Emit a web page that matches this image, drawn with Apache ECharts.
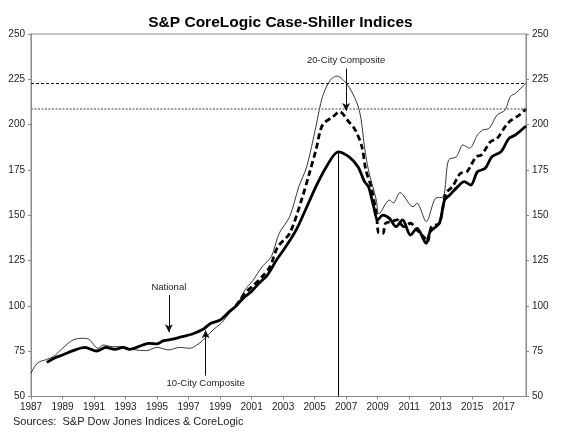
<!DOCTYPE html>
<html>
<head>
<meta charset="utf-8">
<script src="https://cdn.jsdelivr.net/npm/echarts@6/dist/echarts.min.js"></script>
<style>
  html, body { margin: 0; padding: 0; background: #fff; }
  #chart { width: 561px; height: 443px; }
</style>
</head>
<body>
<div id="chart"></div>
<script>
// monthly index values (Jan 2000 = 100)
const nationalDates = ['1988-01', '1988-07', '1989-01', '1989-09', '1990-06', '1991-03', '1991-10', '1992-05',
  '1992-11', '1993-04', '1994-02', '1994-07', '1995-01', '1995-06', '1996-01', '1996-08', '1997-04', '1997-12',
  '1998-06', '1999-01', '1999-08', '2000-02', '2000-07', '2001-01', '2001-06', '2002-01', '2002-08', '2003-03',
  '2003-11', '2004-06', '2005-02', '2005-10', '2006-07', '2007-03', '2007-10', '2008-03', '2008-06', '2008-10',
  '2009-01', '2009-05', '2009-10', '2010-03', '2010-08', '2011-02', '2011-07', '2012-02', '2012-05', '2012-12',
  '2013-04', '2013-08', '2014-02', '2014-07', '2014-12', '2015-05', '2015-11', '2016-04', '2016-11', '2017-05',
  '2017-10', '2018-06'];
const nationalValues = [68.8, 71.3, 72.9, 75.3, 77.1, 75.1, 77.1, 76.0,
  77.1, 76.0, 78.4, 79.3, 79.0, 80.8, 81.6, 83.0, 84.5, 87.1,
  90.4, 92.2, 96.8, 100.5, 104.5, 108.0, 112.0, 117.0, 125.3, 132.6,
  141.9, 152.9, 165.8, 176.8, 185.0, 182.3, 176.8, 168.5, 165.8, 154.7,
  147.4, 150.1, 148.3, 143.7, 147.4, 139.1, 142.8, 134.5, 140.9, 145.6,
  158.4, 161.2, 165.8, 168.5, 166.7, 174.0, 175.9, 182.3, 185.1, 192.4,
  194.3, 199.2];

const city10Dates = ['1987-01', '1987-06', '1988-01', '1988-06', '1989-01', '1989-09', '1990-04', '1990-09',
  '1991-04', '1991-08', '1992-03', '1992-11', '1993-06', '1994-05', '1995-01', '1995-10', '1996-06', '1997-02',
  '1997-09', '1998-02', '1998-08', '1999-02', '1999-08', '2000-02', '2000-08', '2001-02', '2001-09', '2002-04',
  '2002-10', '2003-06', '2004-01', '2004-07', '2005-02', '2005-07', '2006-01', '2006-06', '2007-03', '2007-11',
  '2008-03', '2008-06', '2008-12', '2009-02', '2009-10', '2010-01', '2010-06', '2011-04', '2011-07', '2012-02',
  '2012-09', '2013-03', '2013-07', '2014-01', '2014-06', '2014-11', '2015-05', '2015-09', '2016-02', '2016-08',
  '2017-02', '2017-06', '2017-10', '2018-06'];
const city10Values = [62.8, 68.5, 70.5, 72.0, 76.6, 81.2, 82.1, 81.6,
  76.6, 78.4, 77.5, 77.5, 76.0, 75.3, 77.1, 75.7, 77.1, 76.6,
  79.3, 82.5, 87.0, 90.5, 95.9, 100.5, 108.8, 114.0, 121.6, 127.1,
  140.0, 149.2, 165.8, 176.8, 198.9, 215.4, 224.6, 226.8, 220.9, 208.1,
  187.8, 175.0, 158.4, 150.7, 158.4, 156.8, 162.5, 154.7, 156.6, 146.5,
  159.3, 160.2, 180.5, 182.3, 188.8, 187.0, 194.3, 197.0, 198.0, 205.3,
  208.0, 215.4, 217.3, 222.9];

const city20Dates = ['2000-01', '2000-08', '2001-02', '2001-09', '2002-03', '2002-09', '2003-06', '2004-03',
  '2004-09', '2005-02', '2005-07', '2006-03', '2006-08', '2007-03', '2007-08', '2008-01', '2008-04', '2008-08',
  '2008-12', '2009-02', '2009-05', '2009-07', '2009-11', '2010-04', '2010-09', '2011-02', '2011-07', '2012-01',
  '2012-03', '2012-06', '2012-12', '2013-05', '2013-10', '2014-04', '2014-09', '2015-04', '2015-08', '2016-03',
  '2016-08', '2017-03', '2017-07', '2018-01', '2018-06'];
const city20Values = [100.0, 107.0, 111.0, 116.1, 121.6, 132.6, 140.0, 158.4,
  173.1, 186.0, 199.8, 204.4, 207.1, 201.6, 197.0, 187.8, 175.0, 165.8,
  151.0, 140.0, 140.0, 145.6, 146.4, 147.4, 143.7, 145.6, 141.9, 137.3,
  135.4, 143.7, 145.6, 162.1, 165.8, 173.1, 174.0, 182.3, 183.2, 190.6,
  192.4, 199.8, 202.6, 205.3, 208.8];

const yTicks = [50, 75, 100, 125, 150, 175, 200, 225, 250];
const startYear = 1987;
const lastMonth = '2018-06';
const bubblePeakDate = '2006-07';   // National peak marked with the drop line

// month offset from Jan 1987
function monthIdx(s) {
  const [y, m] = s.split('-').map(Number);
  return (y - startYear) * 12 + (m - 1);
}
function pairs(dates, vals) {
  return dates.map((d, i) => [monthIdx(d), vals[i]]);
}

const FONT = 'Arial, "Liberation Sans", sans-serif';
const AXIS_GRAY = '#8a8a8a';

const natPeakX = monthIdx(bubblePeakDate);
const natPeak = nationalValues[nationalDates.indexOf(bubblePeakDate)];
const last10 = city10Values[city10Values.length - 1];
const last20 = city20Values[city20Values.length - 1];

const arrowLine = (from, to, text) => ({
  symbol: ['none', 'arrow'],
  symbolSize: [6, 8],
  silent: true,
  lineStyle: { color: '#111', width: 1, type: 'solid' },
  label: {
    show: true, position: 'start', formatter: text, color: '#222',
    fontFamily: FONT, fontSize: 9.5, distance: 3,
  },
  data: [[{ coord: from }, { coord: to }]],
});

const yAxisBase = {
  type: 'value',
  min: yTicks[0],
  max: yTicks[yTicks.length - 1],
  interval: 25,
  splitLine: { show: false },
  axisLine: { show: true, lineStyle: { color: AXIS_GRAY, width: 1 } },
  axisTick: { show: true, length: 3, lineStyle: { color: AXIS_GRAY } },
  axisLabel: { color: '#222', fontFamily: FONT, fontSize: 10, margin: 6 },
};

const chart = echarts.init(document.getElementById('chart'), null, { renderer: 'canvas' });

const option = {
  animation: false,
  backgroundColor: '#fff',
  title: {
    text: 'S&P CoreLogic Case-Shiller Indices',
    left: 'center',
    top: 10,
    textStyle: { fontFamily: FONT, fontSize: 15.5, fontWeight: 'bold', color: '#000' },
  },
  graphic: [{
    type: 'text',
    left: 13,
    top: 416,
    style: {
      text: 'Sources:  S&P Dow Jones Indices & CoreLogic',
      font: '11px ' + FONT,
      fill: '#222',
    },
  }],
  grid: {
    left: 31, right: 35, top: 34, bottom: 46.5,
    show: true, borderColor: AXIS_GRAY, borderWidth: 1,
  },
  xAxis: {
    type: 'value',
    min: 0,
    max: monthIdx(lastMonth),
    interval: 24,
    splitLine: { show: false },
    axisLine: { show: true, lineStyle: { color: AXIS_GRAY } },
    axisTick: { show: true, length: 3, lineStyle: { color: AXIS_GRAY } },
    axisLabel: {
      color: '#222', fontFamily: FONT, fontSize: 10, margin: 6, showMaxLabel: false,
      formatter: (v) => (v % 24 === 0 ? String(startYear + v / 12) : ''),
    },
  },
  yAxis: [
    Object.assign({ position: 'left' }, yAxisBase),
    Object.assign({ position: 'right' }, yAxisBase),
  ],
  series: [
    {
      name: '10-City Composite',
      type: 'line',
      data: pairs(city10Dates, city10Values),
      smooth: 0.3,
      symbol: 'none',
      lineStyle: { color: '#222', width: 0.9 },
      z: 3,
      markLine: {
        symbol: 'none', silent: true,
        label: { show: false },
        lineStyle: { color: '#111', width: 1, type: [3, 2] },
        data: [{ yAxis: last10 }],
      },
    },
    {
      name: '20-City Composite',
      type: 'line',
      data: pairs(city20Dates, city20Values),
      smooth: 0.3,
      symbol: 'none',
      lineStyle: { color: '#000', width: 2.8, type: [6, 3.5] },
      z: 4,
      markLine: {
        symbol: 'none', silent: true,
        label: { show: false },
        lineStyle: { color: '#808080', width: 1.5, type: [2, 1.5] },
        data: [{ yAxis: last20 }],
      },
    },
    {
      name: 'National',
      type: 'line',
      data: pairs(nationalDates, nationalValues),
      smooth: 0.3,
      symbol: 'none',
      lineStyle: { color: '#000', width: 2.8 },
      z: 5,
    },
    // drop line from the National peak down to the axis
    {
      type: 'line', data: [], silent: true, z: 2,
      markLine: {
        symbol: ['none', 'none'], silent: true,
        label: { show: false },
        lineStyle: { color: '#000', width: 1, type: 'solid' },
        data: [[{ coord: [natPeakX, natPeak] }, { coord: [natPeakX, yTicks[0]] }]],
      },
    },
    // annotation arrows
    {
      type: 'line', data: [], silent: true,
      markLine: arrowLine([monthIdx('2007-01'), 231], [monthIdx('2007-01'), 207.5], '20-City Composite'),
    },
    {
      type: 'line', data: [], silent: true,
      markLine: arrowLine([monthIdx('1995-10'), 106], [monthIdx('1995-10'), 85.5], 'National'),
    },
    {
      type: 'line', data: [], silent: true,
      markLine: arrowLine([monthIdx('1998-02'), 61.5], [monthIdx('1998-02'), 86.5], '10-City Composite'),
    },
  ],
};

chart.setOption(option);
</script>
</body>
</html>
